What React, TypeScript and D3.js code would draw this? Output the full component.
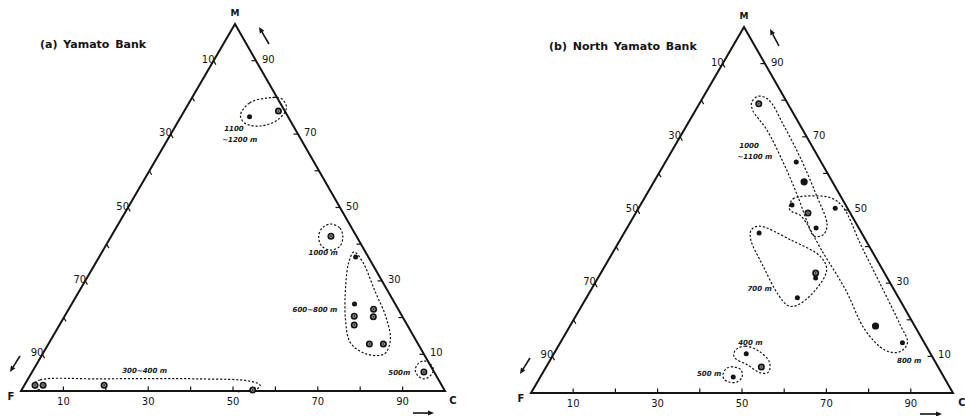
import * as d3 from "d3";

type Pt = [number, number]; // [C, M] in percent, F = 100 - C - M
type Sym = "dot" | "big" | "ring";
type Sample = [number, number, Sym];
type Note = { lines: string[]; c: number; m: number };

const axisTicks = [10, 20, 30, 40, 50, 60, 70, 80, 90];
const axisLabels = [10, 30, 50, 70, 90];

// (a) Yamato Bank
const yamatoPoints: Sample[] = [
  [16.2, 74.7, "dot"], [22.2, 76.3, "ring"],
  [51.8, 42.2, "ring"],
  [60.5, 36.5, "dot"], [66.7, 23.7, "dot"], [68.3, 20.4, "ring"], [69.5, 18.0, "ring"],
  [71.9, 22.3, "ring"], [72.9, 20.2, "ring"], [75.7, 12.8, "ring"], [79.0, 12.8, "ring"],
  [92.4, 5.2, "ring"],
  [2.5, 1.6, "ring"], [4.4, 1.6, "ring"], [18.8, 1.6, "ring"], [54.5, 0.3, "ring"],
];

const yamatoGroups: Pt[][] = [
  [[13.8, 75.2], [14.3, 78.5], [17.6, 79.8], [21.3, 79.6], [23.7, 77.1], [23.2, 73.8], [19.8, 72.2], [15.9, 73.0]],
  [[50.1, 45.5], [52.8, 44.4], [54.7, 42.0], [55.3, 39.5], [53.7, 38.4], [51.0, 39.5], [49.0, 42.0], [48.6, 44.4]],
  [[59.4, 37.9], [62.9, 35.1], [69.5, 27.5], [76.1, 19.9], [80.1, 13.9], [80.6, 10.1], [76.3, 10.1], [71.1, 13.1], [66.8, 19.3], [62.0, 28.9], [59.6, 35.1]],
  [[90.9, 8.2], [92.8, 7.4], [94.4, 5.7], [94.4, 4.1], [93.4, 3.3], [91.6, 4.1], [90.1, 5.7], [89.9, 7.4]],
  [[2.0, 1.6], [3.0, 3.0], [17.0, 3.3], [40.6, 3.3], [52.6, 2.7], [55.6, 1.6], [55.0, 0.3], [42.2, 0.1], [18.6, 0.1], [4.3, 0.3]],
];

const yamatoNotes: Note[] = [
  { lines: ["1100", "~1200 m"], c: 12.2, m: 70.8 },
  { lines: ["1000 m"], c: 49.1, m: 37.1 },
  { lines: ["600~800 m"], c: 53.2, m: 21.5 },
  { lines: ["500m"], c: 84.4, m: 4.4 },
  { lines: ["300~400 m"], c: 21.4, m: 4.9 },
];

// (b) North Yamato Bank
const northPoints: Sample[] = [
  [14.1, 79.0, "ring"], [31.0, 63.1, "dot"], [35.6, 57.7, "big"], [40.8, 49.2, "ring"], [44.8, 45.1, "dot"],
  [35.9, 51.4, "dot"], [46.6, 50.5, "dot"], [72.4, 18.3, "big"], [81.1, 13.7, "dot"],
  [32.0, 43.7, "dot"], [50.9, 32.8, "ring"], [51.6, 31.4, "dot"], [50.0, 26.0, "dot"],
  [45.6, 10.7, "dot"], [51.0, 7.1, "ring"], [45.7, 4.4, "dot"],
];

const northGroups: Pt[][] = [
  [[12.2, 79.5], [13.0, 81.1], [15.9, 80.1], [22.9, 73.2], [31.9, 63.7], [40.3, 54.1], [47.0, 45.9], [47.4, 43.2], [45.4, 42.9], [41.9, 46.7], [36.2, 53.6], [28.6, 62.3], [19.6, 71.9], [13.5, 77.3]],
  [[35.7, 50.5], [35.3, 53.0], [38.0, 53.8], [44.2, 53.3], [48.3, 50.8], [57.8, 40.4], [68.0, 29.5], [78.1, 18.6], [82.3, 13.7], [81.6, 11.2], [78.0, 11.7], [70.5, 17.2], [60.4, 28.1], [49.7, 38.5], [39.5, 48.4], [36.9, 49.5]],
  [[29.7, 44.5], [31.0, 45.6], [40.5, 41.8], [49.9, 37.2], [53.1, 33.6], [53.2, 28.1], [51.0, 24.0], [49.0, 23.8], [45.1, 26.8], [37.2, 35.0], [31.0, 41.8]],
  [[42.5, 11.7], [44.3, 12.8], [48.1, 11.5], [52.2, 8.5], [53.4, 5.7], [51.6, 5.5], [47.4, 7.7], [43.2, 9.8]],
  [[42.9, 5.2], [43.0, 6.8], [44.6, 7.1], [46.6, 6.3], [47.8, 4.4], [47.3, 3.0], [45.4, 3.0], [43.8, 3.8]],
];

const northNotes: Note[] = [
  { lines: ["1000", "~1100 m"], c: 15.6, m: 66.9 },
  { lines: ["700 m"], c: 37.2, m: 27.9 },
  { lines: ["800 m"], c: 82.6, m: 8.2 },
  { lines: ["400 m"], c: 42.5, m: 13.1 },
  { lines: ["500 m"], c: 37.0, m: 4.6 },
];

const INK = "#141414";
const FONT = "'DejaVu Sans', sans-serif";

type XY = [number, number];

function Arrow({ from, to }: { from: XY; to: XY }) {
  const dx = to[0] - from[0];
  const dy = to[1] - from[1];
  const len = Math.hypot(dx, dy);
  const ux = dx / len;
  const uy = dy / len;
  const hl = 6;
  const hw = 2.6;
  const bx = to[0] - ux * hl;
  const by = to[1] - uy * hl;
  const head = `M${to[0]},${to[1]}L${bx - uy * hw},${by + ux * hw}L${bx + uy * hw},${by - ux * hw}Z`;
  return (
    <g>
      <line x1={from[0]} y1={from[1]} x2={bx} y2={by} stroke={INK} strokeWidth={1.6} />
      <path d={head} fill={INK} />
    </g>
  );
}

type PanelProps = {
  title: string;
  titleAt: XY;
  f: XY;
  c: XY;
  m: XY;
  points: Sample[];
  groups: Pt[][];
  notes: Note[];
  arrows: [XY, XY][];
  cLabelX: number;
};

function Panel({ title, titleAt, f, c, m, points, groups, notes, arrows, cLabelX }: PanelProps) {
  const pct = d3.scaleLinear().domain([0, 100]).range([0, 1]);
  const proj = (cv: number, mv: number): XY => [
    f[0] + (c[0] - f[0]) * pct(cv) + (m[0] - f[0]) * pct(mv),
    f[1] + (c[1] - f[1]) * pct(cv) + (m[1] - f[1]) * pct(mv),
  ];
  const outline = d3
    .line<Pt>()
    .x((d) => proj(d[0], d[1])[0])
    .y((d) => proj(d[0], d[1])[1])
    .curve(d3.curveCatmullRomClosed.alpha(0.5));

  // direction along constant-F lines (for ticks on the F edge)
  const p0 = proj(0, 0);
  const p1 = proj(1, -1);
  const fl = Math.hypot(p1[0] - p0[0], p1[1] - p0[1]);
  const fdir: XY = [(p1[0] - p0[0]) / fl, (p1[1] - p0[1]) / fl];
  const tl = 4.5;

  return (
    <g fontFamily={FONT} fill={INK}>
      <text x={titleAt[0]} y={titleAt[1]} fontSize={11} fontWeight="bold" wordSpacing={2}>
        {title}
      </text>
      <path
        d={`M${f[0]},${f[1]}L${c[0]},${c[1]}L${m[0]},${m[1]}Z`}
        fill="none"
        stroke={INK}
        strokeWidth={2}
        strokeLinejoin="miter"
      />
      {/* C axis (bottom) */}
      {axisTicks.map((v) => {
        const p = proj(v, 0);
        return <line key={`cb${v}`} x1={p[0]} y1={p[1]} x2={p[0]} y2={p[1] - tl} stroke={INK} strokeWidth={1.2} />;
      })}
      {axisLabels.map((v) => {
        const p = proj(v, 0);
        return (
          <text key={`cl${v}`} x={p[0]} y={p[1] + 14} fontSize={10} textAnchor="middle">
            {v}
          </text>
        );
      })}
      {/* F axis (left edge) */}
      {axisTicks.map((v) => {
        const p = proj(0, 100 - v);
        return (
          <line key={`ft${v}`} x1={p[0]} y1={p[1]} x2={p[0] + fdir[0] * tl} y2={p[1] + fdir[1] * tl} stroke={INK} strokeWidth={1.2} />
        );
      })}
      {axisLabels.map((v) => {
        const p = proj(0, 100 - v);
        return (
          <text key={`fl${v}`} x={p[0] + 1} y={p[1] + 2} fontSize={10} textAnchor="end">
            {v}
          </text>
        );
      })}
      {/* M axis (right edge) */}
      {axisTicks.map((v) => {
        const p = proj(100 - v, v);
        return <line key={`mt${v}`} x1={p[0]} y1={p[1]} x2={p[0] - tl} y2={p[1]} stroke={INK} strokeWidth={1.2} />;
      })}
      {axisLabels.map((v) => {
        const p = proj(100 - v, v);
        return (
          <text key={`ml${v}`} x={p[0] + 6} y={p[1] + 2} fontSize={10}>
            {v}
          </text>
        );
      })}
      {/* vertices */}
      <text x={m[0]} y={m[1] - 8} fontSize={9} fontWeight="bold" textAnchor="middle">M</text>
      <text x={f[0] - 10} y={f[1] + 9} fontSize={10} fontWeight="bold" textAnchor="middle">F</text>
      <text x={cLabelX} y={c[1] + 13} fontSize={10} fontWeight="bold" textAnchor="middle">C</text>
      {arrows.map((a, i) => (
        <Arrow key={`ar${i}`} from={a[0]} to={a[1]} />
      ))}
      {/* enclosures */}
      {groups.map((g, i) => (
        <path
          key={`g${i}`}
          d={outline(g) ?? ""}
          fill="none"
          stroke={INK}
          strokeWidth={1.2}
          strokeDasharray="2.2 1.8"
        />
      ))}
      {/* samples */}
      {points.map(([cv, mv, s], i) => {
        const [x, y] = proj(cv, mv);
        if (s === "ring")
          return (
            <g key={`p${i}`}>
              <circle cx={x} cy={y} r={3.5} fill={INK} />
              <circle cx={x} cy={y} r={1.8} fill="#9a9a9a" />
              <circle cx={x} cy={y} r={0.8} fill={INK} />
            </g>
          );
        return <circle key={`p${i}`} cx={x} cy={y} r={s === "big" ? 3.6 : 2.5} fill={INK} />;
      })}
      {/* depth notes */}
      {notes.map((n, i) => {
        const [x, y] = proj(n.c, n.m);
        return (
          <text key={`n${i}`} x={x} y={y} fontSize={7} fontWeight="bold" fontStyle="italic">
            {n.lines.map((t, j) => (
              <tspan key={j} x={j === 0 ? x : x - 2} dy={j === 0 ? 0 : 11}>
                {t}
              </tspan>
            ))}
          </text>
        );
      })}
    </g>
  );
}

export default function App() {
  return (
    <svg
      width={965}
      height={416}
      viewBox="0 0 965 416"
      style={{ position: "absolute", left: 0, top: 0, background: "#fff" }}
    >
      <Panel
        title="(a) Yamato Bank"
        titleAt={[40, 48]}
        f={[21, 391]}
        c={[445, 391]}
        m={[235, 24]}
        points={yamatoPoints}
        groups={yamatoGroups}
        notes={yamatoNotes}
        arrows={[
          [[269, 44], [259, 27]],
          [[20, 356], [10, 372]],
          [[413, 413], [434, 413]],
        ]}
        cLabelX={453}
      />
      <Panel
        title="(b) North Yamato Bank"
        titleAt={[549, 50]}
        f={[531, 393]}
        c={[953, 393]}
        m={[744, 27]}
        points={northPoints}
        groups={northGroups}
        notes={northNotes}
        arrows={[
          [[779, 46], [770, 29]],
          [[530, 358], [520, 374]],
          [[920, 414], [942, 414]],
        ]}
        cLabelX={962}
      />
    </svg>
  );
}
